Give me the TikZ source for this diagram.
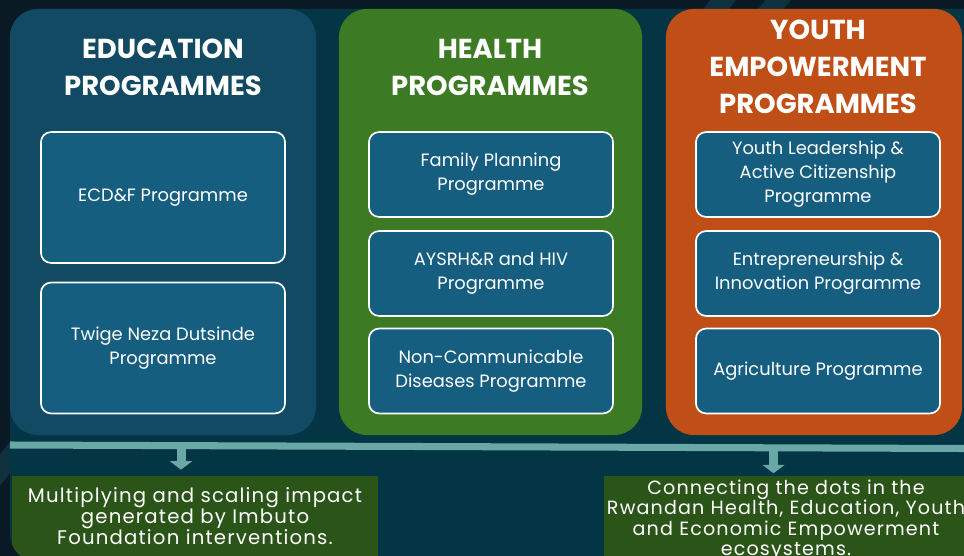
\documentclass[tikz,border=0pt]{standalone}
\usepackage{fontspec}
\setmainfont{Poppins}
\newfontfamily\spacedfont[LetterSpace=6]{Poppins}
\usetikzlibrary{arrows.meta,positioning}
\definecolor{bgdark}{HTML}{0A1A24}
\definecolor{stripe}{HTML}{10313F}
\definecolor{panel}{HTML}{033545}
\definecolor{edu}{HTML}{134A63}
\definecolor{health}{HTML}{3C7B23}
\definecolor{youth}{HTML}{C04F17}
\definecolor{prog}{HTML}{165E80}
\definecolor{bar}{HTML}{6AA7A7}
\definecolor{impact}{HTML}{2B5419}
\tikzset{
    column/.style={
    rectangle,rounded corners=0.7cm,minimum height=10.65cm,inner sep=0pt
    },
    title/.style={
    text=white,align=center,font=\fontsize{19.5}{26.3}\selectfont\bfseries
    },
    programme/.style={
    rectangle,rounded corners=0.25cm,draw=white,line width=1.2pt,fill=prog,
    text=white,minimum width=6.1cm,align=center,font=\fontsize{12.7}{17}\selectfont
    },
    bigprog/.style={
    programme,minimum height=3.27cm
    },
    smallprog/.style={
    programme,minimum height=2.12cm
    },
    outcome/.style={
    rectangle,fill=impact,text=white,align=center,inner sep=0pt
    },
    flow/.style={
    draw=bar,line width=6.4pt,-{Triangle[width=15.6pt,length=6pt]}
    },
}

\begin{document}
\begin{tikzpicture}[x=0.025cm,y=-0.025cm]
   \useasboundingbox (0,0) rectangle (964,556);
   \fill[bgdark] (0,0) rectangle (964,556);
   \draw[stripe,line width=14pt] (690,40) -- (740,-20);
   \draw[stripe,line width=14pt] (745,40) -- (795,-20);
   \draw[stripe,line width=14pt] (-40,520) -- (40,420);
   \fill[panel,rounded corners=0.7cm] (10,9) rectangle (1000,562);

   \node[column,fill=edu,minimum width=7.65cm] (E) at (163,222) {};
   \node[column,fill=health,minimum width=7.575cm] (H) at (490.5,222) {};
   \node[column,fill=youth,minimum width=7.4cm] (Y) at (814,222) {};

   \node[title] (Et) at (163,67) {EDUCATION\\PROGRAMMES};
   \node[title] (Ht) at (490,67) {HEALTH\\PROGRAMMES};
   \node[title] (Yt) at (818,67) {YOUTH\\EMPOWERMENT\\PROGRAMMES};

   \node[bigprog] (E1) at (163,197.5) {ECD\&F Programme};
   \node[bigprog] (E2) at (163,348) {Twige Neza Dutsinde\\Programme};

   \node[smallprog] (H1) at (491,174.5) {Family Planning\\Programme};
   \node[smallprog] (H2) at (491,273.5) {AYSRH\&R and HIV\\Programme};
   \node[smallprog] (H3) at (491,371) {Non-Communicable\\Diseases Programme};

   \node[smallprog] (Y1) at (818,174.5) {Youth Leadership \&\\Active Citizenship\\Programme};
   \node[smallprog] (Y2) at (818,273.5) {Entrepreneurship \&\\Innovation Programme};
   \node[smallprog] (Y3) at (818,371) {Agriculture Programme};

   \coordinate (barL) at (10,445);
   \coordinate (barR) at (964,448.5);
   \draw[bar,line width=5pt] (barL) -- (barR);
   \coordinate (a1) at (181,447);
   \coordinate (a2) at (773.5,448);

   \begin{scope}
   \clip[rounded corners=0.7cm] (10,9) rectangle (1000,562);
   \node[outcome,minimum width=9.15cm,minimum height=2cm,
     font=\spacedfont\fontsize{14}{15}\selectfont] (O1) at (195,516)
     {Multiplying and scaling impact\\generated by Imbuto\\Foundation interventions.};
   \node[outcome,minimum width=9cm,minimum height=2cm,
     font=\spacedfont\fontsize{13.6}{14.6}\selectfont] (O2) at (784,516.5) {};
   \node[text=white,align=center,inner sep=0pt,
     font=\spacedfont\fontsize{13.6}{14.6}\selectfont] (O2t) at (786,520)
     {Connecting the dots in the\\Rwandan Health, Education, Youth\\and Economic Empowerment\\ecosystems.};
   \end{scope}

   \draw[flow] (a1) -- ([yshift=4.3pt]a1 |- O1.north);
   \draw[flow] (a2) -- ([yshift=2.1pt]a2 |- O2.north);
\end{tikzpicture}
\end{document}
